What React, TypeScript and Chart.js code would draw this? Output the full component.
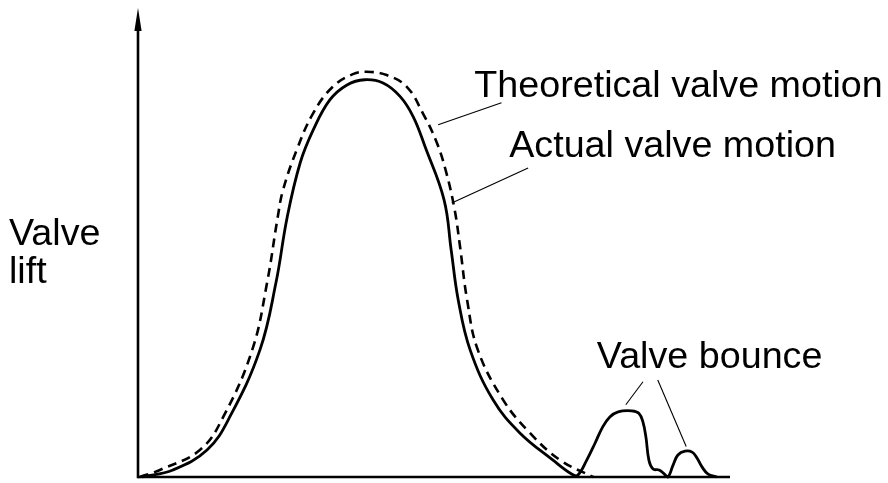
import React, { useEffect, useRef } from "react";
import { Chart, registerables } from "chart.js";

Chart.register(...registerables);

// Crank/cam angle (arbitrary units, 0..100) and valve lift (arbitrary units, 0..100)
const theoreticalX = [0.3, 3.7, 10.5, 14.4, 19.3, 21.8, 23.6, 24.5, 26.8, 29.6, 32.9, 36.3, 38.6, 42.0, 45.4, 48.1, 50.5, 52.1, 53.5, 54.4, 55.6, 57.4, 61.7, 66.2, 71.3, 76.9];
const theoreticalY = [0, 1.5, 5.8, 12.8, 27.1, 41.4, 55.4, 61.2, 69.7, 77.6, 83.2, 85.9, 86.4, 85.7, 83.2, 77.6, 71.2, 64.8, 56.9, 49.1, 37.7, 27.1, 16.4, 9.4, 3.6, 0];

const actualX = [0.7, 5.9, 11.7, 15.5, 20.6, 23.3, 25.2, 27.4, 29.6, 32.4, 35.3, 38.3, 41.4, 44.3, 46.5, 48.5, 51.7, 52.9, 54.1, 56.1, 60.0, 64.5, 70.1, 73.3, 74.3, 75.8, 77.2, 78.5, 79.7, 81.1, 83.4, 84.6, 85.3, 85.8, 86.3, 87.0, 88.0, 88.7, 89.5, 90.4, 91.2, 92.4, 93.6, 94.4, 95.3, 96.3, 97.8];
const actualY = [0, 1.5, 5.8, 12.8, 27.1, 41.4, 55.4, 67.0, 74.0, 80.4, 83.6, 84.7, 84.0, 81.1, 76.8, 70.4, 59.1, 48.4, 37.7, 27.1, 16.4, 9.4, 3.6, 0.6, 0.4, 3.6, 7.2, 10.7, 12.8, 13.9, 14.1, 13.6, 11.7, 8.5, 3.6, 1.7, 1.5, 0.9, 0, 2.6, 4.7, 5.5, 5.3, 4.1, 2.1, 0.6, 0];

// Labels (text, anchor x, baseline y in data units)
const labelTexts = ["Theoretical valve motion", "Actual valve motion", "Valve bounce"];
const labelX = [56.8, 62.7, 77.5];
const labelY = [81.0, 68.3, 23.2];

// Leader lines [x1, y1, x2, y2] in data units
const leaderLines = [
  [61.4, 79.8, 50.7, 75.1],
  [65.9, 65.9, 53.0, 58.4],
  [85.3, 20.3, 82.4, 15.4],
  [87.8, 20.7, 92.6, 6.5],
];

const axisTitleLines = ["Valve", "lift"];
const axisTitleY = [49.5, 41.3];

const FONT = '37.7px "Liberation Sans", Arial, sans-serif';

const decorPlugin = {
  id: "decor",
  afterDatasetsDraw(chart: any) {
    const { ctx, chartArea, scales } = chart;
    const xs = scales.x;
    const ys = scales.y;
    const x0 = xs.getPixelForValue(0);
    const y0 = ys.getPixelForValue(0);
    ctx.save();
    ctx.strokeStyle = "#000";
    ctx.fillStyle = "#000";
    // axes
    ctx.lineWidth = 2.6;
    ctx.beginPath();
    ctx.moveTo(x0, y0);
    ctx.lineTo(chartArea.right, y0);
    ctx.stroke();
    ctx.beginPath();
    ctx.moveTo(x0, y0 + 1.3);
    ctx.lineTo(x0, chartArea.top + 20);
    ctx.stroke();
    // arrowhead
    ctx.beginPath();
    ctx.moveTo(x0, chartArea.top);
    ctx.lineTo(x0 + 3.6, chartArea.top + 23);
    ctx.lineTo(x0 - 3.6, chartArea.top + 23);
    ctx.closePath();
    ctx.fill();
    // leader lines
    ctx.lineWidth = 1.1;
    leaderLines.forEach(([a, b, c, d]) => {
      ctx.beginPath();
      ctx.moveTo(xs.getPixelForValue(a), ys.getPixelForValue(b));
      ctx.lineTo(xs.getPixelForValue(c), ys.getPixelForValue(d));
      ctx.stroke();
    });
    // labels
    ctx.font = FONT;
    ctx.textAlign = "left";
    ctx.textBaseline = "alphabetic";
    labelTexts.forEach((t, i) => {
      ctx.fillText(t, xs.getPixelForValue(labelX[i]), ys.getPixelForValue(labelY[i]));
    });
    axisTitleLines.forEach((t, i) => {
      ctx.fillText(t, 9, ys.getPixelForValue(axisTitleY[i]));
    });
    ctx.restore();
  },
};

export default function App() {
  const ref = useRef<HTMLCanvasElement | null>(null);
  useEffect(() => {
    document.body.style.margin = "0";
    if (!ref.current) return;
    const chart = new Chart(ref.current, {
      type: "line",
      data: {
        datasets: [
          {
            label: "Theoretical valve motion",
            data: theoreticalX.map((x, i) => ({ x, y: theoreticalY[i] })),
            borderColor: "#000",
            borderWidth: 2.6,
            borderDash: [9, 6],
            pointRadius: 0,
            tension: 0.4,
            fill: false,
            clip: false as any,
          },
          {
            label: "Actual valve motion",
            data: actualX.map((x, i) => ({ x, y: actualY[i] })),
            borderColor: "#000",
            borderWidth: 2.8,
            pointRadius: 0,
            tension: 0.4,
            fill: false,
            clip: false as any,
          },
        ],
      },
      options: {
        responsive: false,
        animation: false,
        layout: { padding: { left: 138, right: 158, top: 8, bottom: 6 } },
        scales: {
          x: { type: "linear", min: 0, max: 100, display: false },
          y: { type: "linear", min: 0, max: 100, display: false },
        },
        plugins: { legend: { display: false }, tooltip: { enabled: false } },
      },
      plugins: [decorPlugin],
    });
    return () => chart.destroy();
  }, []);
  return (
    <div style={{ position: "absolute", left: 0, top: 0, width: 888, height: 483, background: "#fff" }}>
      <canvas ref={ref} width={888} height={483} />
    </div>
  );
}
